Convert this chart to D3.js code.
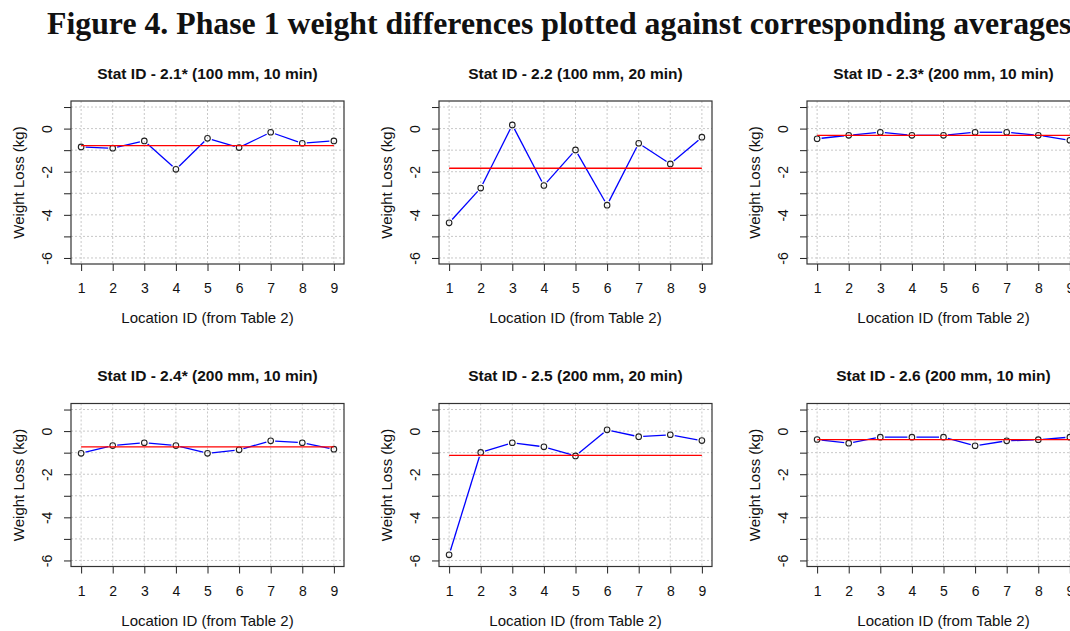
<!DOCTYPE html>
<html>
<head>
<meta charset="utf-8">
<script src="https://cdn.jsdelivr.net/npm/d3@7"></script>
<style>
  body { margin: 0; background: #fff; }
  text { fill: #111; }
</style>
</head>
<body>
<div id="vis"></div>
<script>
// Location IDs on the x axis (from Table 2)
var locations = [1, 2, 3, 4, 5, 6, 7, 8, 9];

// panel titles, read left to right, top to bottom
var statTitles = [
    "Stat ID - 2.1* (100 mm, 10 min)",
    "Stat ID - 2.2 (100 mm, 20 min)",
    "Stat ID - 2.3* (200 mm, 10 min)",
    "Stat ID - 2.4* (200 mm, 10 min)",
    "Stat ID - 2.5 (200 mm, 20 min)",
    "Stat ID - 2.6 (200 mm, 10 min)"
];

// weight differences (kg) at each location
var loss21 = [-0.85, -0.91, -0.57, -1.89, -0.45, -0.88, -0.17, -0.68, -0.57];
var loss22 = [-4.37, -2.76, 0.17, -2.64, -0.99, -3.55, -0.68, -1.64, -0.40];
var loss23 = [-0.47, -0.31, -0.17, -0.31, -0.31, -0.17, -0.17, -0.31, -0.54];
var loss24 = [-1.03, -0.67, -0.54, -0.67, -1.03, -0.87, -0.45, -0.54, -0.84];
var loss25 = [-5.74, -0.99, -0.54, -0.73, -1.15, 0.06, -0.26, -0.17, -0.44];
var loss26 = [-0.39, -0.56, -0.28, -0.28, -0.28, -0.68, -0.45, -0.40, -0.28];

// corresponding averages (red line)
var averages = [-0.79, -1.84, -0.31, -0.73, -1.13, -0.40];

var yTicks = [-6, -5, -4, -3, -2, -1, 0, 1];
var yLimits = [-6, 1];
var xLimits = [1, 9];

var figureTitle = "Figure 4. Phase 1 weight differences plotted against corresponding averages";

var panels = [loss21, loss22, loss23, loss24, loss25, loss26].map(function(v, i) {
    return { title: statTitles[i], values: v, mean: averages[i] };
});

// Set global variables (width, height, etc.)
var width = 1070;
var height = 631;

var plotW = 273;
var plotH = 163;
var colStep = 368;
var rowStep = 302.5;
var origin = { left: 71, top: 101 };
var GAP = 4.5; // R type="b" gap between lines and points

var svg = d3.select("#vis")
            .append("svg")
            .attr("width", width)
            .attr("height", height)
            .style("font-family", "'Liberation Sans', Arial, sans-serif");

svg.append("text")
    .attr("x", 47)
    .attr("y", 34)
    .style("font-family", "'Liberation Serif', 'Times New Roman', serif")
    .style("font-weight", "bold")
    .style("font-size", "31.8px")
    .text(figureTitle);

// R pads the limits by 4% on each side
function padded(lim) {
    var d = (lim[1] - lim[0]) * 0.04;
    return [lim[0] - d, lim[1] + d];
}

var x = d3.scaleLinear().domain(padded(xLimits)).range([0, plotW]);
var y = d3.scaleLinear().domain(padded(yLimits)).range([plotH, 0]);

panels.forEach(function(p, i) {
    var col = i % 3;
    var row = Math.floor(i / 3);

    var g = svg.append("g")
        .attr("transform", "translate(" + (origin.left + col * colStep) + "," + (origin.top + row * rowStep) + ")");

    // grid
    g.append("g")
        .selectAll("line")
        .data(locations)
        .enter().append("line")
        .attr("x1", function(d) { return x(d); })
        .attr("x2", function(d) { return x(d); })
        .attr("y1", 0)
        .attr("y2", plotH)
        .attr("stroke", "#c8c8c8")
        .attr("stroke-dasharray", "2,2");

    g.append("g")
        .selectAll("line")
        .data(yTicks)
        .enter().append("line")
        .attr("x1", 0)
        .attr("x2", plotW)
        .attr("y1", function(d) { return y(d); })
        .attr("y2", function(d) { return y(d); })
        .attr("stroke", "#c8c8c8")
        .attr("stroke-dasharray", "2,2");

    // axes
    var xAxis = g.append("g")
        .attr("transform", "translate(0," + plotH + ")")
        .call(d3.axisBottom(x).tickValues(locations).tickSize(7).tickFormat(d3.format("d")));

    xAxis.selectAll("text")
        .attr("y", 29)
        .attr("dy", null)
        .style("font-size", "14px");

    var yAxis = g.append("g")
        .call(d3.axisLeft(y).tickValues(yTicks).tickSize(7)
            .tickFormat(function(d) { return d % 2 === 0 ? String(d) : ""; }));

    yAxis.selectAll("text")
        .attr("x", 0)
        .attr("dy", null)
        .attr("text-anchor", "middle")
        .attr("transform", "translate(-19,0) rotate(-90)")
        .style("font-size", "14px");

    g.selectAll(".domain").remove();
    g.selectAll(".tick line").attr("stroke", "#222");
    g.selectAll(".tick text").style("fill", "#111").style("font-family", "'Liberation Sans', Arial, sans-serif");

    // blue line, type "b": segments stop short of the points
    var pts = p.values.map(function(v, k) { return [x(locations[k]), y(v)]; });
    var segs = d3.pairs(pts).map(function(pr) {
        var dx = pr[1][0] - pr[0][0], dy = pr[1][1] - pr[0][1];
        var len = Math.sqrt(dx * dx + dy * dy);
        var ux = dx / len, uy = dy / len;
        return [pr[0][0] + ux * GAP, pr[0][1] + uy * GAP, pr[1][0] - ux * GAP, pr[1][1] - uy * GAP];
    });

    g.append("g")
        .selectAll("line")
        .data(segs)
        .enter().append("line")
        .attr("x1", function(d) { return d[0]; })
        .attr("y1", function(d) { return d[1]; })
        .attr("x2", function(d) { return d[2]; })
        .attr("y2", function(d) { return d[3]; })
        .attr("stroke", "#0000ff")
        .attr("stroke-width", 1.3);

    g.append("g")
        .selectAll("circle")
        .data(p.values)
        .enter().append("circle")
        .attr("cx", function(d, k) { return x(locations[k]); })
        .attr("cy", function(d) { return y(d); })
        .attr("r", 2.8)
        .attr("fill", "none")
        .attr("stroke", "#222")
        .attr("stroke-width", 1.1);

    // average
    g.append("line")
        .attr("x1", x(locations[0]))
        .attr("x2", x(locations[locations.length - 1]))
        .attr("y1", y(p.mean))
        .attr("y2", y(p.mean))
        .attr("stroke", "#ff0000")
        .attr("stroke-width", 1.3);

    // box
    g.append("rect")
        .attr("x", 0)
        .attr("y", 0)
        .attr("width", plotW)
        .attr("height", plotH)
        .attr("fill", "none")
        .attr("stroke", "#333")
        .attr("stroke-width", 1.2);

    // titles
    g.append("text")
        .attr("x", plotW / 2)
        .attr("y", -22.5)
        .attr("text-anchor", "middle")
        .style("font-weight", "bold")
        .style("font-size", "15.5px")
        .text(p.title);

    g.append("text")
        .attr("x", plotW / 2)
        .attr("y", plotH + 59)
        .attr("text-anchor", "middle")
        .style("font-size", "15px")
        .text("Location ID (from Table 2)");

    g.append("text")
        .attr("transform", "translate(-47," + (plotH / 2) + ") rotate(-90)")
        .attr("text-anchor", "middle")
        .style("font-size", "15px")
        .text("Weight Loss (kg)");
});
</script>
</body>
</html>
